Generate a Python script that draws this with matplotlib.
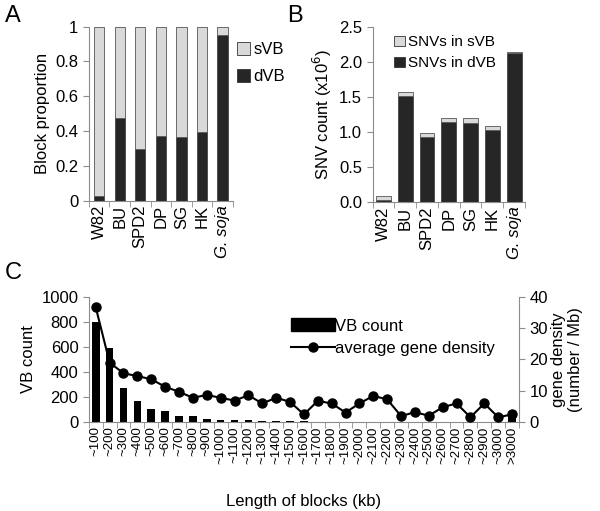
import numpy as np
import matplotlib
matplotlib.use('Agg')
import matplotlib.pyplot as plt
from matplotlib.patches import Patch
from matplotlib.lines import Line2D

plt.rcParams['font.family'] = ['Liberation Sans', 'DejaVu Sans']

# panel A / B data
lines_ab = ['W82', 'BU', 'SPD2', 'DP', 'SG', 'HK', 'G. soja']
dvb_prop = [0.025, 0.474, 0.296, 0.373, 0.369, 0.396, 0.952]
snv_dvb = [0.04, 1.51, 0.935, 1.143, 1.134, 1.03, 2.13]
snv_svb = [0.05, 0.055, 0.055, 0.062, 0.061, 0.056, 0.014]

# panel C data
length_bins = ['~%d' % v for v in range(100, 3001, 100)] + ['>3000']
vb_count = [795, 588, 271, 168, 104, 93, 50, 48, 29, 21, 16, 18, 12, 10, 8,
            7, 6, 5, 5, 4, 4, 4, 3, 3, 3, 2, 2, 2, 2, 2, 40]
gene_density = [36.6, 19.0, 15.6, 14.7, 13.7, 11.3, 9.7, 7.8, 8.7, 7.8, 6.9,
                8.6, 6.0, 7.8, 6.5, 2.5, 6.8, 6.0, 3.1, 6.0, 8.4, 7.3, 2.0,
                3.2, 2.1, 4.8, 6.0, 1.6, 6.0, 1.6, 2.5]

light = '#d9d9d9'
dark = '#262626'
spine_c = '#8c8c8c'

fig = plt.figure(figsize=(6.0, 5.11), dpi=100)


def style_axis(ax, n):
    for s in ['top', 'right']:
        ax.spines[s].set_visible(False)
    for s in ['left', 'bottom']:
        ax.spines[s].set_color(spine_c)
    ax.set_xlim(-0.5, n - 0.5)
    ax.set_xticks(np.arange(n))
    ax.set_xticks(np.arange(n + 1) - 0.5, minor=True)
    ax.tick_params(axis='x', which='major', length=0, pad=3)
    ax.tick_params(axis='x', which='minor', length=4, color=spine_c, direction='out')
    ax.tick_params(axis='y', length=4, color=spine_c, direction='out')


# ---- panel A ----
x = np.arange(len(lines_ab))
axA = fig.add_axes([0.148, 0.607, 0.24, 0.341])
svb_prop = [1 - v for v in dvb_prop]
axA.bar(x, dvb_prop, 0.5, color=dark, edgecolor='#444444', lw=0.6)
axA.bar(x, svb_prop, 0.5, bottom=dvb_prop, color=light, edgecolor='#555555', lw=0.6)
style_axis(axA, len(x))
axA.set_ylim(0, 1)
axA.set_yticks([0, 0.2, 0.4, 0.6, 0.8, 1])
axA.set_yticklabels(['0', '0.2', '0.4', '0.6', '0.8', '1'], fontsize=12)
axA.set_xticklabels(lines_ab, rotation=90, fontsize=12)
axA.get_xticklabels()[-1].set_fontstyle('italic')
axA.set_ylabel('Block proportion', fontsize=12, labelpad=4)
axA.legend(handles=[Patch(fc=light, ec='#333333', lw=0.6, label='sVB'),
                    Patch(fc=dark, ec='#333333', lw=0.6, label='dVB')],
           loc='upper left', bbox_to_anchor=(0.98, 0.95), frameon=False,
           fontsize=12, handlelength=0.8, handleheight=0.8, handletextpad=0.2,
           labelspacing=0.7, borderaxespad=0)

# ---- panel B ----
axB = fig.add_axes([0.621, 0.604, 0.254, 0.344])
axB.bar(x, snv_dvb, 0.68, color=dark, edgecolor='#444444', lw=0.6)
axB.bar(x, snv_svb, 0.68, bottom=snv_dvb, color=light, edgecolor='#555555', lw=0.6)
style_axis(axB, len(x))
axB.set_ylim(0, 2.5)
axB.set_yticks([0, 0.5, 1.0, 1.5, 2.0, 2.5])
axB.set_yticklabels(['0.0', '0.5', '1.0', '1.5', '2.0', '2.5'], fontsize=12)
axB.set_xticklabels(lines_ab, rotation=90, fontsize=12)
axB.get_xticklabels()[-1].set_fontstyle('italic')
axB.set_ylabel('SNV count (x10$^{6}$)', fontsize=12, labelpad=4)
axB.legend(handles=[Patch(fc=light, ec='#333333', lw=0.6, label='SNVs in sVB'),
                    Patch(fc=dark, ec='#333333', lw=0.6, label='SNVs in dVB')],
           loc='upper left', bbox_to_anchor=(0.1, 0.985), frameon=False,
           fontsize=11, handlelength=0.7, handleheight=0.7, handletextpad=0.2,
           labelspacing=0.45, borderaxespad=0)

# ---- panel C ----
xc = np.arange(len(length_bins))
axC = fig.add_axes([0.148, 0.1736, 0.717, 0.246])
axC.bar(xc, vb_count, 0.55, color='black')
style_axis(axC, len(xc))
axC.set_ylim(0, 1000)
axC.set_yticks(range(0, 1001, 200))
axC.tick_params(axis='y', labelsize=12)
axC.set_xticklabels(length_bins, rotation=90, fontsize=9.5)
axC.set_ylabel('VB count', fontsize=12, labelpad=4)
axC.set_xlabel('Length of blocks (kb)', fontsize=12, labelpad=22)

axC2 = axC.twinx()
axC2.plot(xc, gene_density, color='black', lw=1.5, marker='o', ms=6.5)
axC2.set_ylim(0, 40)
axC2.set_yticks(range(0, 41, 10))
axC2.tick_params(axis='y', labelsize=12, length=4, color=spine_c)
for s in ['top', 'left', 'bottom']:
    axC2.spines[s].set_visible(False)
axC2.spines['right'].set_color(spine_c)
axC2.set_ylabel('gene density\n(number / Mb)', fontsize=12, labelpad=2)

axC2.legend(handles=[Patch(fc='black', ec='black', label='VB count'),
                     Line2D([], [], color='black', lw=1.5, marker='o', ms=6.5,
                            label='average gene density')],
            loc='upper left', bbox_to_anchor=(0.455, 0.88), frameon=False,
            fontsize=12, handlelength=2.6, handleheight=0.8, handletextpad=0.05,
            labelspacing=0.45, borderaxespad=0)

fig.text(0.008, 0.99, 'A', fontsize=17, va='top')
fig.text(0.478, 0.99, 'B', fontsize=17, va='top')
fig.text(0.008, 0.488, 'C', fontsize=17, va='top')

fig.savefig('out.png', dpi=100)
